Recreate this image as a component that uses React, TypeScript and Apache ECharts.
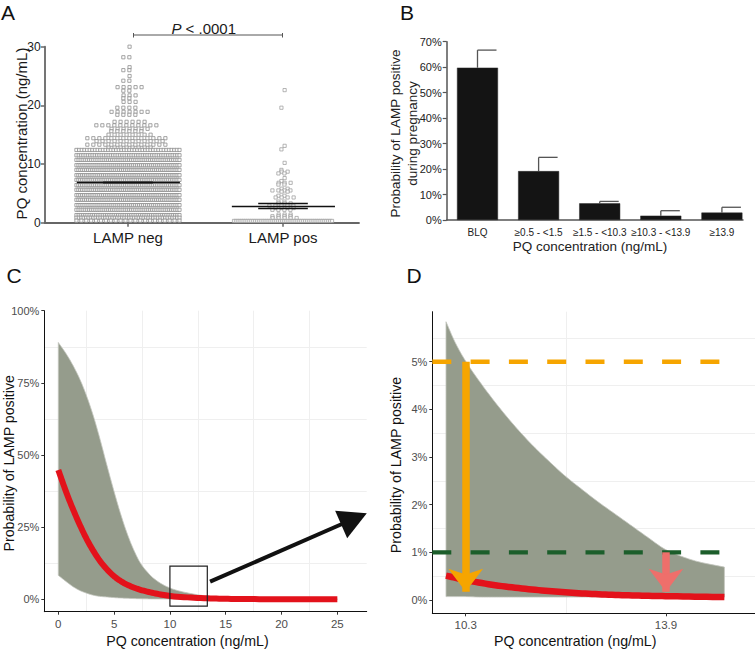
import React, { useEffect, useRef } from 'react';
import * as echarts from 'echarts';

const FONT = '"Liberation Sans", Arial, Helvetica, sans-serif';

// ---------- Panel A: individual PQ concentrations (rows of the column scatter) ----------
const groupLabels = ['LAMP neg', 'LAMP pos'];
const negRowValues = [30.0, 28.2, 26.5, 26.0, 25.0, 24.2, 23.1, 22.5, 21.7, 21.2, 20.6, 19.6, 18.9, 18.4, 17.2, 16.6, 16.0, 15.6, 15.0, 14.4, 13.9, 13.3, 12.8,
  12.4, 11.5, 10.7, 9.8, 9.0, 8.1, 7.3, 6.4, 5.6, 4.7, 3.9, 3.0, 2.2, 1.3, 0.85, 0.35];
const negRowCounts = [1, 2, 1, 2, 1, 2, 5, 2, 3, 2, 3, 4, 7, 4, 6, 11, 7, 6, 8, 14, 12, 14, 8,
  40, 46, 50, 52, 54, 55, 56, 56, 56, 55, 54, 52, 50, 48, 44, 22];
const posRowValues = [22.6, 19.6, 13.1, 12.5, 10.2, 9.0, 8.7, 8.4, 7.6, 7.1, 6.8, 6.5, 5.8, 5.5, 5.3, 4.6, 4.3, 3.6, 3.3, 2.9, 2.5, 2.2, 1.4, 1.1, 0.8, 0.3];
const posRowCounts = [1, 1, 1, 1, 1, 1, 2, 2, 1, 1, 3, 2, 2, 4, 2, 2, 4, 2, 3, 5, 4, 4, 3, 4, 5, 52];
const groupMeans = [6.9, 2.85];
const groupSemUpper = [6.95, 3.3];
const groupSemLower = [6.85, 2.45];

// ---------- Panel B ----------
const bandLabels = ['BLQ', '≥0.5 - <1.5', '≥1.5 - <10.3', '≥10.3 - <13.9', '≥13.9'];
const bandProb = [59.8, 19.2, 6.55, 1.7, 2.9];
const bandErrTop = [66.7, 24.6, 7.3, 3.65, 5.0];

// ---------- Panel C ----------
const cFitX = [0, 0.75, 1.35, 1.95, 2.55, 3.15, 3.75, 4.35, 5.25, 6.15, 7.35, 8.86, 10.36, 13.36, 16, 20, 25];
const cFit = [44.8, 36.7, 30.9, 25.6, 20.8, 16.7, 13.2, 10.4, 7.2, 5.1, 3.3, 1.9, 1.0, 0.35, 0.1, 0.03, 0.01];
const cBandX = [0, 0.75, 1.35, 1.95, 2.55, 3.15, 3.75, 4.35, 4.95, 5.55, 6.15, 6.75, 7.35, 7.96, 8.56, 9.46, 10.36, 11.86, 13.36, 15, 20, 25];
const cUpper = [89, 84.8, 80.8, 76.1, 70.3, 63.4, 55.3, 46.5, 38.0, 30.0, 23.0, 17.2, 12.6, 9.5, 7.2, 4.9, 3.4, 2.0, 1.1, 0.6, 0.2, 0.1];
const cLower = [8.3, 6, 4.3, 3.0, 2.1, 1.4, 1.0, 0.8, 0.6, 0.45, 0.35, 0.25, 0.2, 0.15, 0.12, 0.1, 0.07, 0.05, 0.03, 0.02, 0.01, 0];
const cZoomBox = [10, 13.35, -2.4, 11.5];
const cArrow = [13.6, 6.1, 26.49, 27.9];

// ---------- Panel D ----------
const dBandX = [9.946, 10.113, 10.29, 10.59, 10.89, 11.19, 11.49, 11.79, 12.09, 12.39, 12.69, 12.99, 13.29, 13.59, 13.89, 14.19, 14.49, 14.95];
const dUpper = [5.84, 5.40, 5.03, 4.52, 4.06, 3.64, 3.26, 2.92, 2.60, 2.32, 2.05, 1.80, 1.55, 1.30, 1.06, 0.91, 0.80, 0.69];
const dLower = [0.07, 0.07, 0.07, 0.06, 0.06, 0.06, 0.06, 0.06, 0.06, 0.06, 0.06, 0.06, 0.06, 0.06, 0.06, 0.06, 0.06, 0.06];
const dFitX = [9.946, 10.29, 10.89, 11.49, 12.09, 12.69, 13.29, 13.89, 14.95];
const dFit = [0.51, 0.42, 0.30, 0.22, 0.16, 0.12, 0.095, 0.08, 0.06];
const dThresholds = [5, 1];
const dThresholdColors = ['#f6a500', '#1c5e2b'];
const dCutoffs = [10.3, 13.9];
const dCutoffFrom = [5, 1];
const dCutoffColors = ['#f6a500', '#ee6f6b'];
const dLineStartEnd = [9.70, 14.86];

const AX = { min: -0.537, max: 1.49 };
const A_PX_PER_UNIT = 155;

function swarm(values: number[], counts: number[], center: number, maxWidthPx: number) {
  const pts: number[][] = [];
  values.forEach((v, i) => {
    const n = counts[i];
    const sp = n > 1 ? Math.min(6, maxWidthPx / (n - 1)) : 0;
    const shift = n < 20 ? (i % 2 === 0 ? 1.6 : -1.6) : (i % 2 === 0 ? sp / 2 : 0);
    for (let j = 0; j < n; j++) {
      const off = (j - (n - 1) / 2) * sp + (n < 20 ? shift : 0);
      pts.push([center + off / A_PX_PER_UNIT, v]);
    }
  });
  return pts;
}

// monotone cubic sampling in pixel space, used only for drawing smooth curves
function smoothPixels(p: number[][], steps = 10): number[][] {
  const n = p.length;
  if (n < 3) return p;
  const d: number[] = [];
  for (let i = 0; i < n - 1; i++) d.push((p[i + 1][1] - p[i][1]) / (p[i + 1][0] - p[i][0]));
  const m: number[] = new Array(n);
  m[0] = d[0];
  m[n - 1] = d[n - 2];
  for (let i = 1; i < n - 1; i++) {
    if (d[i - 1] * d[i] <= 0) m[i] = 0;
    else {
      const h0 = p[i][0] - p[i - 1][0];
      const h1 = p[i + 1][0] - p[i][0];
      const w1 = 2 * h1 + h0;
      const w2 = h1 + 2 * h0;
      m[i] = (w1 + w2) / (w1 / d[i - 1] + w2 / d[i]);
    }
  }
  const out: number[][] = [];
  for (let i = 0; i < n - 1; i++) {
    const h = p[i + 1][0] - p[i][0];
    for (let s = 0; s < steps; s++) {
      const t = s / steps;
      const t2 = t * t, t3 = t2 * t;
      const h00 = 2 * t3 - 3 * t2 + 1, h10 = t3 - 2 * t2 + t, h01 = -2 * t3 + 3 * t2, h11 = t3 - t2;
      out.push([p[i][0] + h * t, h00 * p[i][1] + h10 * h * m[i] + h01 * p[i + 1][1] + h11 * h * m[i + 1]]);
    }
  }
  out.push(p[n - 1]);
  return out;
}

function bandRender(xs: number[], up: number[], lo: number[], fill: string) {
  return (params: any, api: any) => {
    const u = smoothPixels(xs.map((x, i) => api.coord([x, up[i]])));
    const l = smoothPixels(xs.map((x, i) => api.coord([x, lo[i]])));
    const pts = u.concat(l.reverse());
    return {
      type: 'polygon',
      shape: { points: pts },
      style: { fill, stroke: '#c4c7bf', lineWidth: 0.8 },
    };
  };
}

function curveRender(xs: number[], ys: number[], color: string, width: number) {
  return (params: any, api: any) => {
    const pts = smoothPixels(xs.map((x, i) => api.coord([x, ys[i]])));
    return {
      type: 'polyline',
      shape: { points: pts },
      style: { stroke: color, lineWidth: width, fill: 'none', lineCap: 'butt', lineJoin: 'round' },
    };
  };
}

const gridLineStyle = { color: '#efefef', width: 1, type: 'solid' };

export default function App() {
  const ref = useRef<HTMLDivElement>(null);
  useEffect(() => {
    if (!ref.current) return;
    const chart = echarts.init(ref.current, null, { renderer: 'svg' });

    const negPts = swarm(negRowValues, negRowCounts, 0, 103);
    const posPts = swarm(posRowValues, posRowCounts, 1, 98);

    const meanLines: any[] = [];
    [0, 1].forEach((g) => {
      meanLines.push([{ coord: [g - 0.33, groupMeans[g]] }, { coord: [g + 0.335, groupMeans[g]] }]);
      meanLines.push([{ coord: [g - 0.16, groupSemUpper[g]] }, { coord: [g + 0.16, groupSemUpper[g]] }]);
      meanLines.push([{ coord: [g - 0.16, groupSemLower[g]] }, { coord: [g + 0.16, groupSemLower[g]] }]);
    });

    const tickLabelGG = { color: '#4d4d4d', fontSize: 11, fontFamily: FONT };
    const axisLineGG = { onZero: false, lineStyle: { color: '#111', width: 1 } };

    const option: any = {
      animation: false,
      grid: [
        { left: 44.7, top: 46.7, width: 314.3, height: 176 },
        { left: 446.7, top: 41.7, width: 296.3, height: 178.3 },
        { left: 44.3, top: 310.7, width: 322.4, height: 301 },
        { left: 432.3, top: 311.7, width: 322.7, height: 301.6 },
      ],
      xAxis: [
        {
          gridIndex: 0, type: 'value', min: AX.min, max: AX.max,
          axisLine: { onZero: false, lineStyle: { color: '#666', width: 1.8 } },
          axisTick: { show: true, customValues: [0, 1], length: 4, lineStyle: { color: '#666', width: 1.5 } },
          axisLabel: { customValues: [0, 1], formatter: (v: number) => groupLabels[Math.round(v)], fontSize: 15, color: '#1a1a1a', fontFamily: FONT, margin: 7 },
          splitLine: { show: false },
        },
        {
          gridIndex: 1, type: 'value', min: -0.504, max: 4.345,
          axisLine: { onZero: false, lineStyle: { color: '#555', width: 1.5 } },
          axisTick: { show: false },
          axisLabel: { customValues: [0, 1, 2, 3, 4], formatter: (v: number) => bandLabels[Math.round(v)], fontSize: 10, color: '#222', fontFamily: FONT, margin: 7 },
          splitLine: { show: false },
        },
        {
          gridIndex: 2, type: 'value', min: -1.254, max: 27.63,
          axisLine: axisLineGG,
          axisTick: { show: true, customValues: [0, 5, 10, 15, 20, 25], length: 3, lineStyle: { color: '#333' } },
          axisLabel: { customValues: [0, 5, 10, 15, 20, 25], ...tickLabelGG, fontSize: 11.5, margin: 6 },
          splitLine: { show: false },
        },
        {
          gridIndex: 3, type: 'value', min: 9.70, max: 15.5,
          axisLine: axisLineGG,
          axisTick: { show: true, customValues: [10.3, 13.9], length: 3, lineStyle: { color: '#333' } },
          axisLabel: { customValues: [10.3, 13.9], ...tickLabelGG, fontSize: 11.5, margin: 6 },
          splitLine: { show: false },
        },
      ],
      yAxis: [
        {
          gridIndex: 0, type: 'value', min: 0, max: 30, interval: 10,
          axisLine: { show: true, onZero: false, lineStyle: { color: '#666', width: 1.8 } },
          axisTick: { show: true, length: 4, lineStyle: { color: '#666', width: 1.5 } },
          axisLabel: { fontSize: 12, color: '#1a1a1a', fontFamily: FONT, margin: 4 },
          splitLine: { show: false },
        },
        {
          gridIndex: 1, type: 'value', min: 0, max: 70, interval: 10,
          axisLine: { show: true, onZero: false, lineStyle: { color: '#555', width: 1.5 } },
          axisTick: { show: true, length: 4, lineStyle: { color: '#555', width: 1.2 } },
          axisLabel: { formatter: '{value}%', fontSize: 11, color: '#222', fontFamily: FONT, margin: 5 },
          splitLine: { show: false },
        },
        {
          gridIndex: 2, type: 'value', min: -4.3, max: 100,
          axisLine: { show: true, ...axisLineGG },
          axisTick: { show: true, customValues: [0, 25, 50, 75, 100], length: 3, lineStyle: { color: '#333' } },
          axisLabel: { customValues: [0, 25, 50, 75, 100], formatter: (v: number) => v + '%', ...tickLabelGG, margin: 5 },
          splitLine: { show: false },
        },
        {
          gridIndex: 3, type: 'value', min: -0.28, max: 6.05,
          axisLine: { show: true, ...axisLineGG },
          axisTick: { show: true, customValues: [0, 1, 2, 3, 4, 5], length: 3, lineStyle: { color: '#333' } },
          axisLabel: { customValues: [0, 1, 2, 3, 4, 5], formatter: (v: number) => v + '%', ...tickLabelGG, margin: 5 },
          splitLine: { show: false },
        },
      ],
      series: [
        // ---- A ----
        {
          type: 'scatter', xAxisIndex: 0, yAxisIndex: 0, data: negPts, symbol: 'rect', symbolSize: 3.2,
          itemStyle: { color: '#fff', borderColor: '#8f8f8f', borderWidth: 1 }, silent: true,
        },
        {
          type: 'scatter', xAxisIndex: 0, yAxisIndex: 0, data: posPts, symbol: 'rect', symbolSize: 3.2,
          itemStyle: { color: '#fff', borderColor: '#999', borderWidth: 0.9 }, silent: true,
          markLine: {
            silent: true, symbol: 'none', label: { show: false },
            lineStyle: { color: '#111', width: 1.4, type: 'solid' },
            data: meanLines,
          },
        },
        // ---- B ----
        {
          type: 'bar', xAxisIndex: 1, yAxisIndex: 1, barWidth: 41,
          data: bandProb.map((v, i) => [i, v]),
          itemStyle: { color: '#141414', borderColor: '#2a2a2a', borderWidth: 0.5 },
        },
        {
          type: 'custom', xAxisIndex: 1, yAxisIndex: 1,
          data: bandProb.map((v, i) => [i, v, bandErrTop[i]]),
          encode: { x: 0, y: [1, 2] },
          renderItem: (params: any, api: any) => {
            const x = api.value(0);
            const p1 = api.coord([x, api.value(1)]);
            const p2 = api.coord([x, api.value(2)]);
            const st = { stroke: '#555', lineWidth: 1.3 };
            return {
              type: 'group',
              children: [
                { type: 'line', shape: { x1: p1[0], y1: p1[1], x2: p2[0], y2: p2[1] }, style: st },
                { type: 'line', shape: { x1: p2[0], y1: p2[1], x2: p2[0] + 19, y2: p2[1] }, style: st },
              ],
            };
          },
        },
        // ---- C ----
        {
          type: 'line', xAxisIndex: 2, yAxisIndex: 2, data: [], z: 0,
          markLine: {
            silent: true, symbol: 'none', label: { show: false }, z: 0,
            lineStyle: gridLineStyle,
            data: [2.5, 7.5, 12.5, 17.5, 22.5].map((v) => ({ xAxis: v })).concat([12.5, 37.5, 62.5, 87.5].map((v) => ({ yAxis: v })) as any),
          },
        },
        {
          type: 'custom', xAxisIndex: 2, yAxisIndex: 2, z: 1,
          data: [[cBandX[0], cUpper[0]]],
          renderItem: bandRender(cBandX, cUpper, cLower, '#959c8c'),
        },
        {
          type: 'custom', xAxisIndex: 2, yAxisIndex: 2, z: 3,
          data: [[cFitX[0], cFit[0]]],
          renderItem: curveRender(cFitX, cFit, '#e3121b', 6),
        },
        {
          type: 'line', xAxisIndex: 2, yAxisIndex: 2, data: [], z: 4,
          markArea: {
            silent: true, z: 10,
            itemStyle: { color: 'rgba(0,0,0,0)', borderColor: '#222', borderWidth: 1.2 },
            data: [[{ coord: [cZoomBox[0], cZoomBox[2]] }, { coord: [cZoomBox[1], cZoomBox[3]] }]],
          },
          markLine: {
            silent: true, label: { show: false },
            lineStyle: { color: '#111', width: 4, type: 'solid' },
            data: [[
              { coord: [cArrow[0], cArrow[1]], symbol: 'none' },
              { coord: [cArrow[2], cArrow[3]], symbol: 'triangle', symbolSize: [30, 28] },
            ]],
          },
        },
        // ---- D ----
        {
          type: 'line', xAxisIndex: 3, yAxisIndex: 3, data: [], z: 0,
          markLine: {
            silent: true, symbol: 'none', label: { show: false }, z: 0,
            lineStyle: gridLineStyle,
            data: [{ xAxis: 12.1 }].concat([0.5, 1.5, 2.5, 3.5, 4.5, 5.5].map((v) => ({ yAxis: v })) as any),
          },
        },
        {
          type: 'custom', xAxisIndex: 3, yAxisIndex: 3, z: 1,
          data: [[dBandX[0], dUpper[0]]],
          renderItem: bandRender(dBandX, dUpper, dLower, '#959c8c'),
        },
        ...dThresholds.map((t, i) => ({
          type: 'line', xAxisIndex: 3, yAxisIndex: 3, z: 2,
          data: [[dLineStartEnd[0], t], [dLineStartEnd[1], t]], showSymbol: false,
          lineStyle: { color: dThresholdColors[i], width: 4.3, type: [19, 19.3] },
        })),
        {
          type: 'custom', xAxisIndex: 3, yAxisIndex: 3, z: 3,
          data: [[dFitX[0], dFit[0]]],
          renderItem: curveRender(dFitX, dFit, '#e3121b', 6.5),
        },
        {
          type: 'line', xAxisIndex: 3, yAxisIndex: 3, data: [], z: 4,
          markLine: {
            silent: true, label: { show: false }, z: 6,
            data: dCutoffs.map((c, i) => [
              { coord: [c, dCutoffFrom[i]], symbol: 'none', lineStyle: { color: dCutoffColors[i], width: 7.5, type: 'solid' } },
              { coord: [c, 0.17], symbol: 'arrow', symbolSize: [26, 23], lineStyle: { color: dCutoffColors[i], width: 7.5, type: 'solid' } },
            ]),
          },
        },
      ],
      graphic: [
        { type: 'text', x: 1, y: 12.5, style: { text: 'A', fontSize: 21, fontFamily: FONT, fill: '#111', verticalAlign: 'middle' } },
        { type: 'text', x: 400, y: 12.5, style: { text: 'B', fontSize: 21, fontFamily: FONT, fill: '#111', verticalAlign: 'middle' } },
        { type: 'text', x: 6.5, y: 275.7, style: { text: 'C', fontSize: 21, fontFamily: FONT, fill: '#111', verticalAlign: 'middle' } },
        { type: 'text', x: 406.5, y: 275.7, style: { text: 'D', fontSize: 21, fontFamily: FONT, fill: '#111', verticalAlign: 'middle' } },
        // A annotations
        { type: 'line', shape: { x1: 133, y1: 35, x2: 283, y2: 35 }, style: { stroke: '#555', lineWidth: 1 } },
        { type: 'line', shape: { x1: 133.5, y1: 33, x2: 133.5, y2: 37.5 }, style: { stroke: '#555', lineWidth: 1 } },
        { type: 'line', shape: { x1: 282.5, y1: 33, x2: 282.5, y2: 37.5 }, style: { stroke: '#555', lineWidth: 1 } },
        {
          type: 'text', x: 203.7, y: 28.3,
          style: {
            text: '{i|P} < .0001', fontSize: 15, fontFamily: FONT, fill: '#1a1a1a', align: 'center', verticalAlign: 'middle',
            rich: { i: { fontStyle: 'italic', fontSize: 15, fontFamily: FONT, fill: '#1a1a1a' } },
          },
        },
        { type: 'text', x: 21.5, y: 133.5, rotation: Math.PI / 2, style: { text: 'PQ concentration (ng/mL)', fontSize: 15, fontFamily: FONT, fill: '#1a1a1a', align: 'center', verticalAlign: 'middle' } },
        // B titles
        { type: 'text', x: 404.3, y: 133.5, rotation: Math.PI / 2, style: { text: 'Probability of LAMP positive\nduring pregnancy', fontSize: 13.5, lineHeight: 16.7, fontFamily: FONT, fill: '#222', align: 'center', verticalAlign: 'middle' } },
        { type: 'text', x: 590, y: 246.7, style: { text: 'PQ concentration (ng/mL)', fontSize: 13.5, fontFamily: FONT, fill: '#222', align: 'center', verticalAlign: 'middle' } },
        // C titles
        { type: 'text', x: 8.5, y: 463.3, rotation: Math.PI / 2, style: { text: 'Probability of LAMP positive', fontSize: 14.2, fontFamily: FONT, fill: '#111', align: 'center', verticalAlign: 'middle' } },
        { type: 'text', x: 187.5, y: 640.7, style: { text: 'PQ concentration (ng/mL)', fontSize: 14.2, fontFamily: FONT, fill: '#111', align: 'center', verticalAlign: 'middle' } },
        // D titles
        { type: 'text', x: 395.8, y: 465, rotation: Math.PI / 2, style: { text: 'Probability of LAMP positive', fontSize: 14.2, fontFamily: FONT, fill: '#111', align: 'center', verticalAlign: 'middle' } },
        { type: 'text', x: 575.2, y: 640.7, style: { text: 'PQ concentration (ng/mL)', fontSize: 14.2, fontFamily: FONT, fill: '#111', align: 'center', verticalAlign: 'middle' } },
      ],
    };
    chart.setOption(option);
    return () => chart.dispose();
  }, []);
  return <div ref={ref} style={{ position: 'absolute', left: 0, top: 0, width: 755, height: 649, background: '#fff' }} />;
}
